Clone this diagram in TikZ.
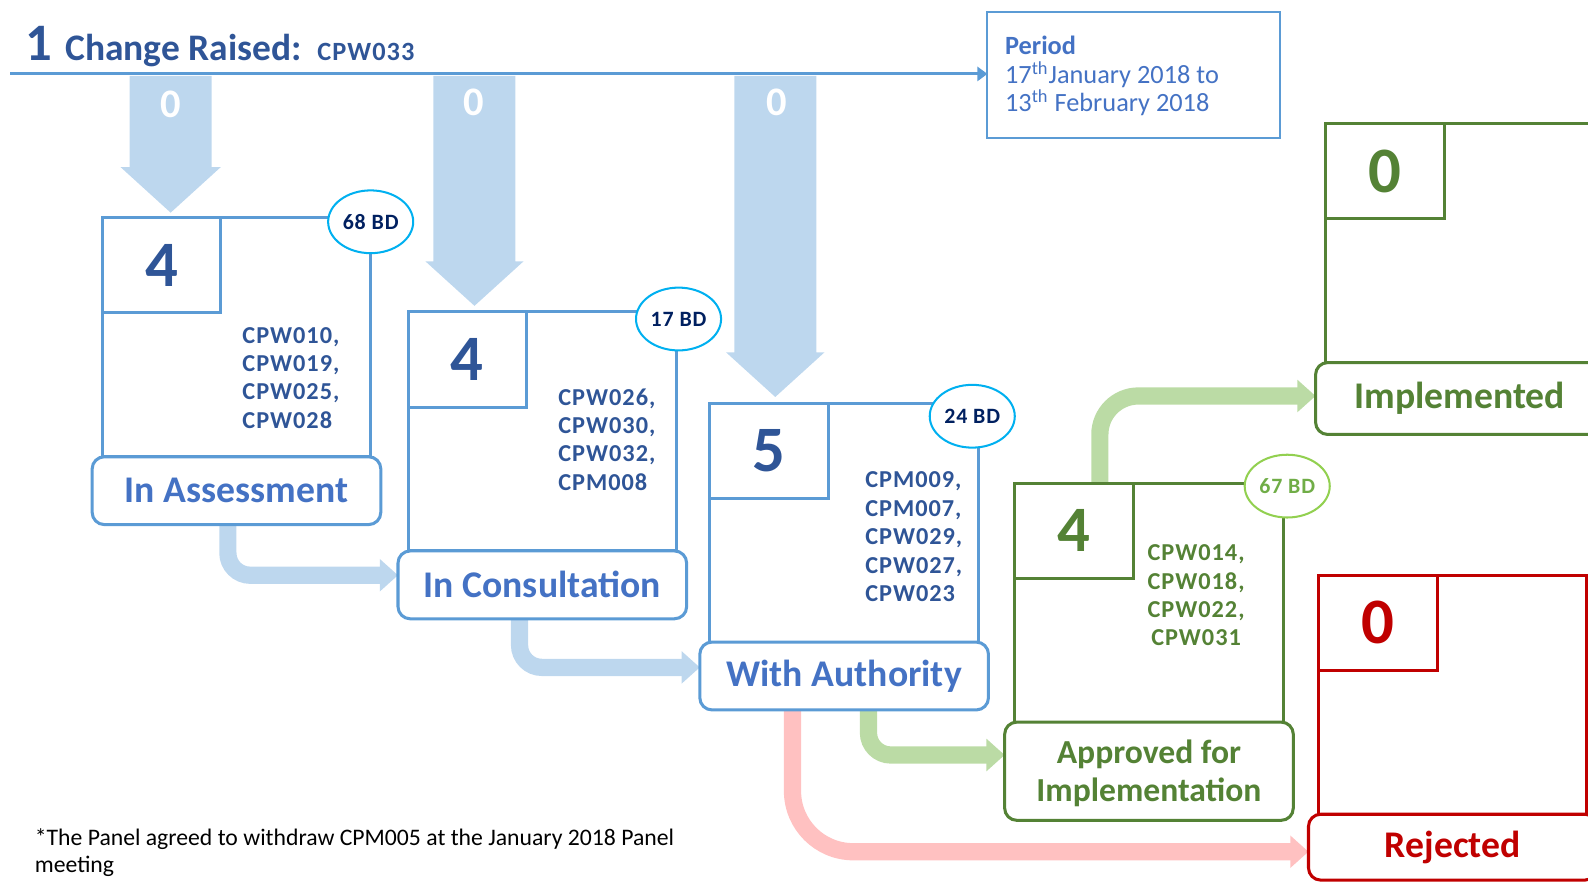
\documentclass[tikz,border=0pt]{standalone}
\usepackage{fontspec}
\setmainfont{Carlito}
\newfontfamily\codefont[LetterSpace=4]{Carlito}
\usetikzlibrary{arrows.meta,shapes.geometric}
\definecolor{lineblue}{HTML}{5B9BD5}
\definecolor{paleblue}{HTML}{BDD7EE}
\definecolor{darkblue}{HTML}{2F5597}
\definecolor{midblue}{HTML}{4472C4}
\definecolor{navyc}{HTML}{002060}
\definecolor{cyanc}{HTML}{00B0F0}
\definecolor{dgreen}{HTML}{548235}
\definecolor{lgreen}{HTML}{BBDBA5}
\definecolor{limec}{HTML}{92D050}
\definecolor{mgreen}{HTML}{70AD47}
\definecolor{dred}{HTML}{C00000}
\definecolor{pinkc}{HTML}{FFC1C1}
\pgfdeclarelayer{bg}
\pgfsetlayers{bg,main}
\begin{document}
\begin{tikzpicture}[x=0.5pt,y=-0.5pt,
  bigbox/.style={draw, line width=1.5pt, minimum width=132.5pt, minimum height=118pt, anchor=north west, inner sep=0pt, outer sep=0pt},
  numbox/.style={draw, line width=1.5pt, minimum width=58.5pt, minimum height=47pt, anchor=north west, inner sep=0pt, outer sep=0pt, font=\bfseries\fontsize{32}{32}\selectfont},
  labbox/.style={draw, fill=white, line width=1.5pt, rounded corners=6pt, minimum width=142.5pt, minimum height=33.5pt, anchor=north, inner sep=0pt, outer sep=0pt, align=center, font=\bfseries\fontsize{18.6}{19}\selectfont},
  bd/.style={ellipse, draw, fill=white, line width=1pt, minimum width=42pt, minimum height=31pt, inner sep=0pt, font=\codefont\bfseries\fontsize{10.8}{12}\selectfont},
  codes/.style={align=left, inner sep=0pt, font=\codefont\bfseries\fontsize{12}{14}\selectfont},
  conn/.style={line width=8.5pt, rounded corners=11pt, -{Triangle[width=15.5pt,length=9pt]}},
  zero/.style={text=white, font=\bfseries\fontsize{20}{20}\selectfont},
  downarrow/.style={fill=paleblue}
]
\useasboundingbox (0,0) rectangle (1568,870);
\clip (0,0) rectangle (1568,870);

% big down arrows from the timeline
\fill[downarrow] (128,75) -- (209,75) -- (209,165) -- (218,165) -- (168.5,210) -- (119,165) -- (128,165) -- cycle;
\fill[downarrow] (428,75) -- (509,75) -- (509,258) -- (517,258) -- (468.5,302) -- (420,258) -- (428,258) -- cycle;
\fill[downarrow] (725,75) -- (806,75) -- (806,348) -- (814,348) -- (765.5,392) -- (717,348) -- (725,348) -- cycle;
\node[zero] (z1) at (169,103) {0};
\node[zero] (z2) at (468,101) {0};
\node[zero] (z3) at (767,101) {0};

% title
\node[anchor=base west, inner sep=0pt, text=darkblue, font=\bfseries\fontsize{26}{26}\selectfont] (one) at (25,60) {1};
\node[anchor=base west, inner sep=0pt, text=darkblue, font=\bfseries\fontsize{18.5}{20}\selectfont] (cr) at (64,60) {Change Raised:};
\node[anchor=base west, inner sep=0pt, text=darkblue, font=\codefont\bfseries\fontsize{13}{14}\selectfont] (cpw) at (313,60) {CPW033};

% period box
\node[draw=lineblue, line width=1pt, minimum width=144.5pt, minimum height=62pt, anchor=north west, outer sep=0pt] (period) at (975,12) {};
\node[anchor=west, align=left, inner sep=0pt, text=midblue, font=\fontsize{13}{14}\selectfont] (ptext) at (992,75) {\textbf{Period}\\17\textsuperscript{th}January 2018 to\\13\textsuperscript{th} February 2018};
\coordinate (lstart) at (10,73);
\draw[lineblue, line width=1.5pt, -{Triangle[width=7pt,length=5pt]}] (lstart) -- (lstart -| period.west);

% stage 1: In Assessment
\node[bigbox, draw=lineblue] (b1) at (101,215) {};
\node[numbox, draw=lineblue, text=darkblue] (n1) at (b1.north west) {4};
\node[labbox, draw=lineblue, text=midblue] (l1) at (b1.south) {In Assessment};
\node[bd, draw=cyanc, text=navyc] (e1) at ([yshift=-2pt]b1.north east) {68 BD};
\node[codes, text=darkblue, anchor=west] (c1) at (239,373) {CPW010,\\CPW019,\\CPW025,\\CPW028};

% stage 2: In Consultation
\node[bigbox, draw=lineblue] (b2) at (403,308) {};
\node[numbox, draw=lineblue, text=darkblue] (n2) at (b2.north west) {4};
\node[labbox, draw=lineblue, text=midblue] (l2) at (b2.south) {In Consultation};
\node[bd, draw=cyanc, text=navyc] (e2) at ([xshift=1pt,yshift=-3.5pt]b2.north east) {17 BD};
\node[codes, text=darkblue, anchor=west] (c2) at (551,434) {CPW026,\\CPW030,\\CPW032,\\CPM008};

% stage 3: With Authority
\node[bigbox, draw=lineblue] (b3) at (701,398) {};
\node[numbox, draw=lineblue, text=darkblue] (n3) at (b3.north west) {5};
\node[labbox, draw=lineblue, text=midblue] (l3) at (b3.south) {With Authority};
\node[bd, draw=cyanc, text=navyc] (e3) at ([xshift=-3pt,yshift=-6.5pt]b3.north east) {24 BD};
\node[codes, text=darkblue, anchor=west] (c3) at (854,530) {CPM009,\\CPM007,\\CPW029,\\CPW027,\\CPW023};

% stage 4: Approved for Implementation
\node[bigbox, draw=dgreen] (b4) at (1002,477) {};
\node[numbox, draw=dgreen, text=dgreen] (n4) at (b4.north west) {4};
\node[labbox, draw=dgreen, text=dgreen, minimum height=48.5pt, font=\bfseries\fontsize{16.6}{19}\selectfont] (l4) at (b4.south) {\rule{0pt}{14pt}Approved for\\Implementation};
\node[bd, draw=limec, text=mgreen] (e4) at ([xshift=2pt,yshift=-1.5pt]b4.north east) {67 BD};
\node[codes, text=dgreen, align=center] (c4) at (1181,588) {CPW014,\\CPW018,\\CPW022,\\CPW031};

% Implemented
\node[bigbox, draw=dgreen] (b5) at (1309,122) {};
\node[numbox, draw=dgreen, text=dgreen] (n5) at (b5.north west) {0};
\node[labbox, draw=dgreen, text=dgreen, minimum height=35.5pt] (l5) at (b5.south) {Implemented};

% Rejected
\node[bigbox, draw=dred] (b6) at (1302,568) {};
\node[numbox, draw=dred, text=dred] (n6) at (b6.north west) {0};
\node[labbox, draw=dred, text=dred, minimum height=32.5pt] (l6) at (b6.south) {Rejected};

% footnote
\node[anchor=west, align=left, inner sep=0pt, font=\fontsize{11.7}{13}\selectfont] (note) at (34,842) {*The Panel agreed to withdraw CPM005 at the January 2018 Panel\\meeting};

% connectors
\begin{pgfonlayer}{bg}
\draw[conn, paleblue] ([xshift=-4.25pt]l1.south) |- ([yshift=4.75pt]l2.west);
\draw[conn, paleblue] ([xshift=-11.25pt]l2.south) |- ([yshift=4.25pt]l3.west);
\draw[conn, lgreen] ([xshift=12pt]l3.south) |- ([yshift=8pt]l4.west);
\draw[conn, pinkc, rounded corners=30pt] ([xshift=-25.5pt]l3.south) |- ([yshift=-2.25pt]l6.west);
\draw[conn, lgreen, rounded corners=19pt] ([xshift=-24.25pt]b4.north) |- ([yshift=1.25pt]l5.west);
\end{pgfonlayer}
\end{tikzpicture}
\end{document}
